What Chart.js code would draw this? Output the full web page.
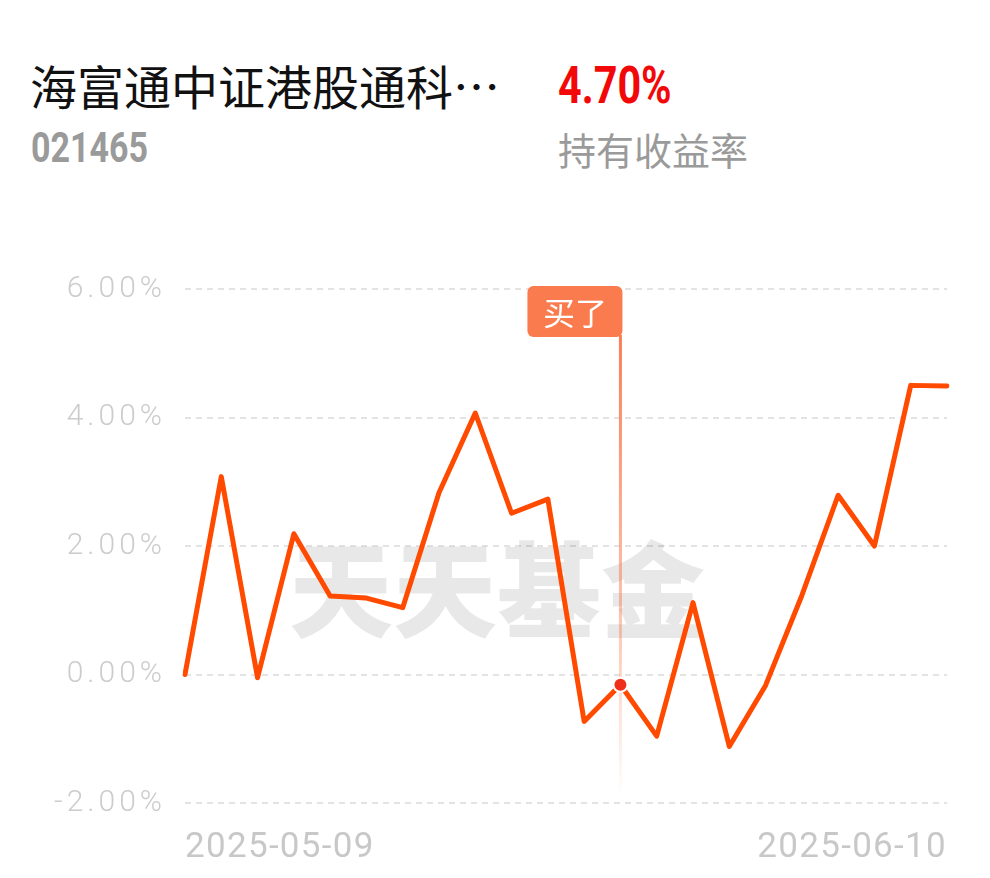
<!DOCTYPE html>
<html>
<head>
<meta charset="utf-8">
<script src="https://cdn.jsdelivr.net/npm/chart.js@4.4.1/dist/chart.umd.min.js"></script>
<style>
  html, body { margin: 0; padding: 0; background: #fff; width: 990px; height: 878px; overflow: hidden; }
  .t { position: absolute; white-space: nowrap; line-height: 1; transform-origin: 0 0; }
  #name { left: 30px; top: 50px; font: 400 47px "Noto Sans CJK SC", sans-serif; color: #111; }
  #code { left: 31px; top: 122px; font: 700 43px Roboto, "Noto Sans", sans-serif; color: #9a9a9a; transform: scaleX(0.79); }
  #ret { left: 558px; top: 56px; font: 700 51px Roboto, "Noto Sans", sans-serif; color: #f20808; transform: scaleX(0.81); }
  #retlab { left: 558px; top: 121px; font: 400 38px "Noto Sans CJK SC", sans-serif; color: #9a9a9a; }
  #c { position: absolute; left: 0; top: 0; }
</style>
</head>
<body>
<div class="t" id="name">海富通中证港股通科…</div>
<div class="t" id="code">021465</div>
<div class="t" id="ret">4.70%</div>
<div class="t" id="retlab">持有收益率</div>
<canvas id="c" width="990" height="878"></canvas>
<script>
const dates = ["2025-05-09","2025-05-12","2025-05-13","2025-05-14","2025-05-15","2025-05-16",
  "2025-05-19","2025-05-20","2025-05-21","2025-05-22","2025-05-23",
  "2025-05-26","2025-05-27","2025-05-28","2025-05-29","2025-05-30",
  "2025-06-03","2025-06-04","2025-06-05","2025-06-06","2025-06-09","2025-06-10"];
const returns = [0.00, 3.08, -0.05, 2.19, 1.22, 1.19, 1.04, 2.83, 4.07, 2.51, 2.73,
  -0.73, -0.16, -0.96, 1.12, -1.12, -0.17, 1.23, 2.79, 2.00, 4.50, 4.49];
const yTicks = [-2, 0, 2, 4, 6];
const buyIndex = 12;
const buyLabel = "买了";
const watermark = "天天基金";

const watermarkPlugin = {
  id: 'wm',
  beforeDatasetsDraw(chart) {
    const ctx = chart.ctx;
    ctx.save();
    ctx.fillStyle = 'rgba(0,0,0,0.09)';
    ctx.font = '900 104px "Noto Sans CJK SC"';
    ctx.textAlign = 'center';
    ctx.textBaseline = 'middle';
    ctx.fillText(watermark, 497, 590);
    ctx.restore();
  }
};

// letter spacing for tick labels (drawn by the scales themselves)
const spacingPlugin = {
  id: 'spacing',
  afterLayout(chart) {
    const sp = { x: '1.3px', y: '4px' };
    for (const id of ['x', 'y']) {
      const s = chart.scales[id];
      if (!s || s._spWrapped) continue;
      const orig = s.drawLabels;
      s.drawLabels = function (ca) {
        const ctx = this.ctx;
        const prev = ctx.letterSpacing;
        ctx.letterSpacing = sp[id];
        orig.call(this, ca);
        ctx.letterSpacing = prev || '0px';
      };
      s._spWrapped = true;
    }
  }
};

const buyPlugin = {
  id: 'buy',
  afterDatasetsDraw(chart) {
    const ctx = chart.ctx;
    const x = chart.scales.x.getPixelForValue(buyIndex);
    const top = chart.scales.y.getPixelForValue(6) - 3;
    const boxH = 51, boxW = 95;
    const lineTop = top + boxH;
    const lineBot = chart.scales.y.getPixelForValue(-2) - 6;
    const g = ctx.createLinearGradient(0, lineTop, 0, lineBot);
    g.addColorStop(0, 'rgba(250,120,75,0.95)');
    g.addColorStop(0.6, 'rgba(250,120,75,0.45)');
    g.addColorStop(1, 'rgba(250,120,75,0)');
    ctx.save();
    ctx.fillStyle = g;
    ctx.fillRect(x - 1.5, lineTop - 2, 3, lineBot - lineTop + 2);
    const bx = x + 2 - boxW, by = top;
    ctx.fillStyle = '#fa7b4e';
    ctx.beginPath();
    ctx.roundRect(bx, by, boxW, boxH, 6);
    ctx.fill();
    ctx.fillStyle = '#fff';
    ctx.font = '400 32px "Noto Sans CJK SC"';
    ctx.textAlign = 'center';
    ctx.textBaseline = 'middle';
    ctx.fillText(buyLabel, bx + boxW / 2, by + boxH / 2 + 1);
    ctx.restore();
    const p = chart.getDatasetMeta(0).data[buyIndex];
    ctx.save();
    ctx.beginPath();
    ctx.arc(p.x, p.y, 8, 0, Math.PI * 2);
    ctx.fillStyle = '#fff';
    ctx.fill();
    ctx.beginPath();
    ctx.arc(p.x, p.y, 6, 0, Math.PI * 2);
    ctx.fillStyle = '#ef2f1a';
    ctx.fill();
    ctx.restore();
  }
};

new Chart(document.getElementById('c'), {
  type: 'line',
  data: {
    labels: dates,
    datasets: [{
      data: returns,
      borderColor: '#ff4a00',
      borderWidth: 5,
      tension: 0,
      pointRadius: 0,
      borderJoinStyle: 'round',
      borderCapStyle: 'round',
      fill: false
    }]
  },
  options: {
    responsive: false,
    animation: false,
    devicePixelRatio: 1,
    layout: { padding: { top: 289, right: 43, bottom: 0, left: 0 } },
    plugins: { legend: { display: false }, tooltip: { enabled: false } },
    scales: {
      x: {
        offset: false,
        grid: { display: false, drawTicks: false },
        border: { display: false },
        afterFit(s) { s.height = 75; },
        ticks: {
          autoSkip: false,
          maxRotation: 0,
          align: 'inner',
          padding: 24,
          color: '#c8c8c8',
          font: { family: 'Roboto', size: 35 },
          callback(v, i) { return (i === 0 || i === dates.length - 1) ? dates[i] : ''; }
        }
      },
      y: {
        min: -2, max: 6,
        afterFit(s) { s.width = 185; },
        afterBuildTicks(s) { s.ticks = yTicks.map(v => ({ value: v })); },
        grid: { color: '#e3e3e3', lineWidth: 2, drawTicks: false },
        border: { display: false, dash: [6, 5] },
        ticks: {
          padding: 19,
          color: '#cccccc',
          font: { family: 'Roboto', size: 30, weight: 300 },
          callback(v) { return v.toFixed(2) + '%'; }
        }
      }
    }
  },
  plugins: [spacingPlugin, watermarkPlugin, buyPlugin]
});
</script>
</body>
</html>
